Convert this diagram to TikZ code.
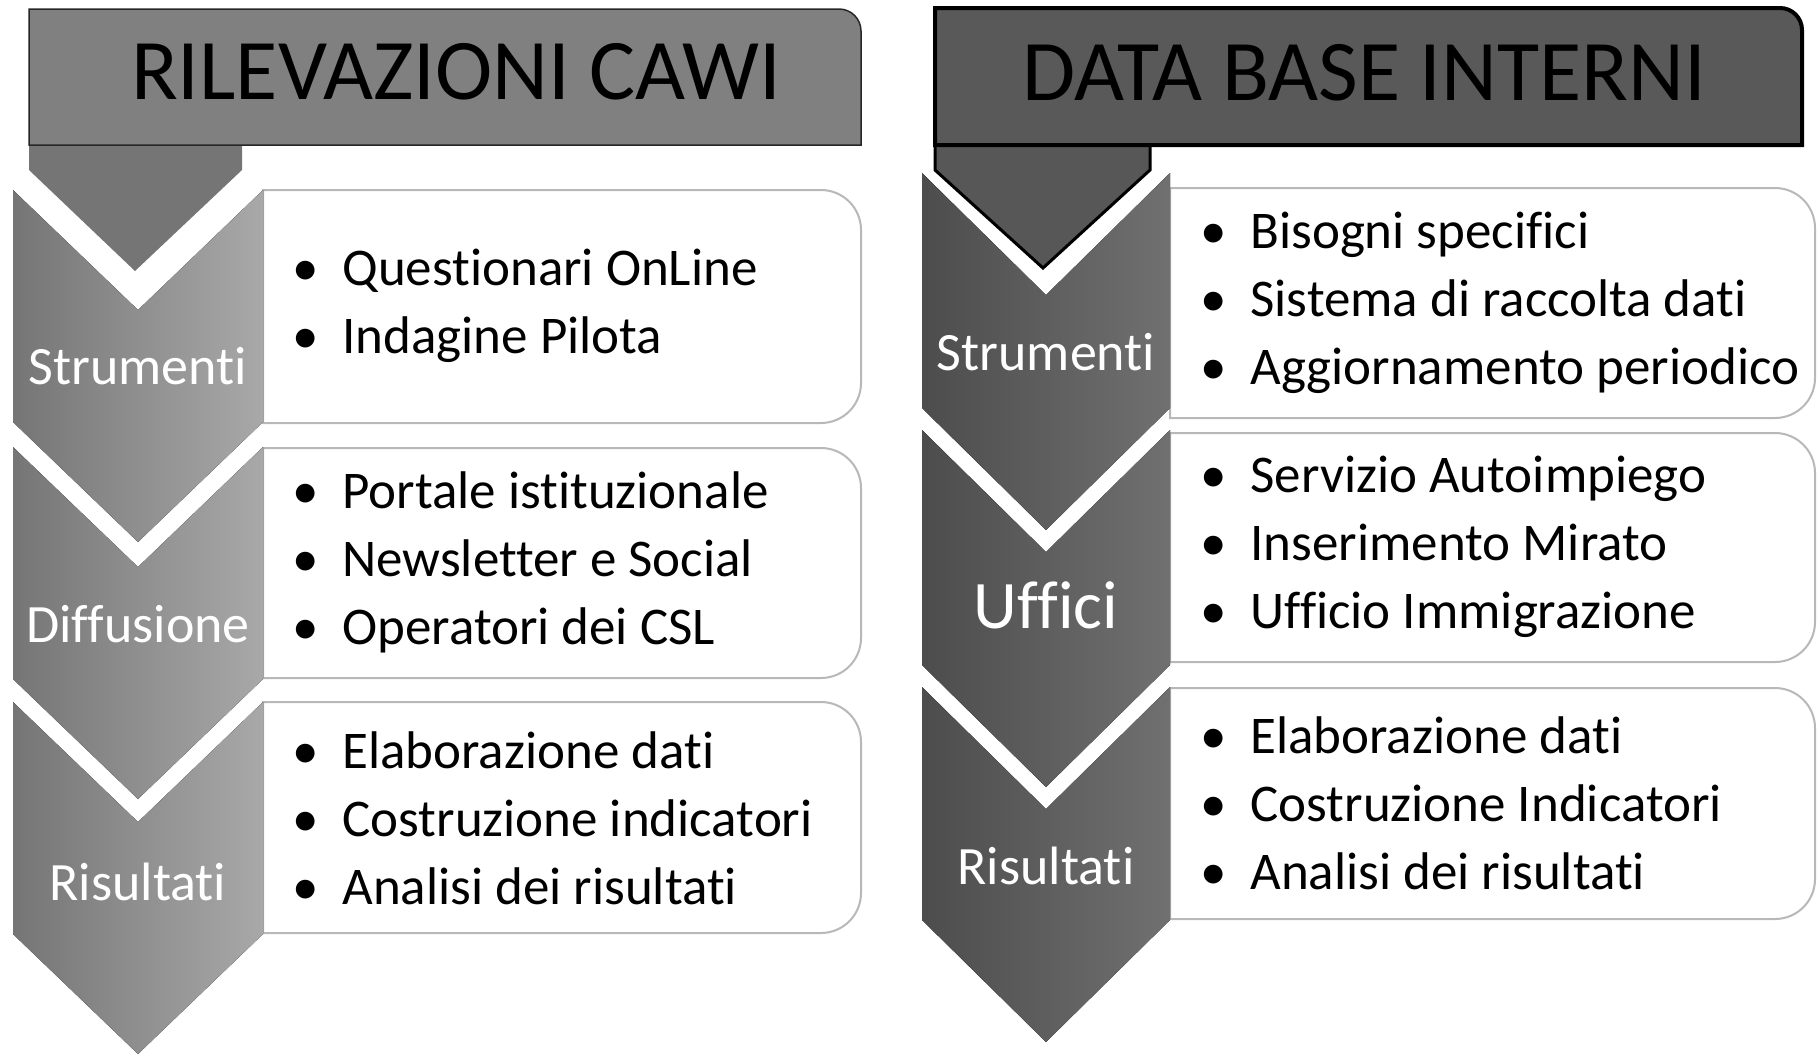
\documentclass[tikz,border=0pt]{standalone}
\usepackage{fontspec}
\setmainfont{Carlito}[Ligatures=NoCommon]
\newcommand{\bulletitem}{\makebox[25pt][l]{\textbullet}}

\begin{document}
\begin{tikzpicture}[x=0.5pt,y=-0.5pt,line join=miter,
  box/.style={fill=white,draw=black!28,line width=1pt},
  light chevron/.style={left color=black!54,right color=black!34},
  dark chevron/.style={left color=black!70,right color=black!56},
  stage label/.style={text=white,font=\fontsize{27}{32}\selectfont},
  item list/.style={anchor=west,inner sep=0pt,align=left,font=\fontsize{26.5}{34}\selectfont},
  head label/.style={font=\fontsize{43.2}{50}\selectfont}]
\useasboundingbox (0,0) rectangle (1820,1057);

% RILEVAZIONI CAWI
\draw[box] (263,190) -- (821,190) arc[start angle=-90,end angle=0,radius=40] -- (861,383) arc[start angle=0,end angle=90,radius=40] -- (263,423) -- cycle;
\draw[box] (263,448) -- (821,448) arc[start angle=-90,end angle=0,radius=40] -- (861,638) arc[start angle=0,end angle=90,radius=40] -- (263,678) -- cycle;
\draw[box] (263,702) -- (821,702) arc[start angle=-90,end angle=0,radius=40] -- (861,893) arc[start angle=0,end angle=90,radius=40] -- (263,933) -- cycle;

\fill[light chevron] (13,190) -- (138,310) -- (263,190) -- (263,422) -- (138,542) -- (13,422) -- cycle;
\fill[light chevron] (13,447) -- (138,567) -- (263,447) -- (263,679) -- (138,799) -- (13,679) -- cycle;
\fill[light chevron] (13,702) -- (138,822) -- (263,702) -- (263,934) -- (138,1054) -- (13,934) -- cycle;

\fill[black!54] (29,140) -- (242,140) -- (242,170) -- (135,271) -- (29,170) -- cycle;
\draw[fill=black!50,draw=black!85,line width=0.75pt] (29,145) -- (29,9) -- (839,9) arc[start angle=-90,end angle=0,radius=22] -- (861,145) -- cycle;
\node[head label] (cawi) at (456,72) {RILEVAZIONI CAWI};

\node[stage label] (cawi1) at (138,366) {Strumenti};
\node[stage label] (cawi2) at (138,624) {Diffusione};
\node[stage label] (cawi3) at (138,882) {Risultati};

\node[item list] (cawi1 items) at (292,306) {\bulletitem Questionari OnLine\\ \bulletitem Indagine Pilota};
\node[item list] (cawi2 items) at (292,562) {\bulletitem Portale istituzionale\\ \bulletitem Newsletter e Social\\ \bulletitem Operatori dei CSL};
\node[item list] (cawi3 items) at (292,818) {\bulletitem Elaborazione dati\\ \bulletitem Costruzione indicatori\\ \bulletitem Analisi dei risultati};

% DATA BASE INTERNI
\draw[box] (1170,188) -- (1775,188) arc[start angle=-90,end angle=0,radius=40] -- (1815,378) arc[start angle=0,end angle=90,radius=40] -- (1170,418) -- cycle;
\draw[box] (1170,433) -- (1775,433) arc[start angle=-90,end angle=0,radius=40] -- (1815,622) arc[start angle=0,end angle=90,radius=40] -- (1170,662) -- cycle;
\draw[box] (1170,688) -- (1775,688) arc[start angle=-90,end angle=0,radius=40] -- (1815,879) arc[start angle=0,end angle=90,radius=40] -- (1170,919) -- cycle;

\fill[dark chevron] (922,173) -- (1046,295) -- (1170,173) -- (1170,408) -- (1046,530) -- (922,408) -- cycle;
\fill[dark chevron] (922,430) -- (1046,552) -- (1170,430) -- (1170,665) -- (1046,787) -- (922,665) -- cycle;
\fill[dark chevron] (922,687) -- (1046,809) -- (1170,687) -- (1170,920) -- (1046,1042) -- (922,920) -- cycle;

\draw[fill=black!66,line width=1.5pt] (935,140) -- (935,170) -- (1043,268) -- (1150,170) -- (1150,140);
\draw[fill=black!65,line width=2pt] (935,145) -- (935,8) -- (1780,8) arc[start angle=-90,end angle=0,radius=22] -- (1802,145) -- cycle;
\node[head label] (dbi) at (1364,73) {DATA BASE INTERNI};

\node[stage label] (dbi1) at (1046,352) {Strumenti};
\node[stage label,font=\fontsize{34}{40}\selectfont] (dbi2) at (1046,605) {Uffici};
\node[stage label] (dbi3) at (1046,866) {Risultati};

\node[item list] (dbi1 items) at (1200,303) {\bulletitem Bisogni specifici\\ \bulletitem Sistema di raccolta dati\\ \bulletitem Aggiornamento periodico};
\node[item list] (dbi2 items) at (1200,547) {\bulletitem Servizio Autoimpiego\\ \bulletitem Inserimento Mirato\\ \bulletitem Ufficio Immigrazione};
\node[item list] (dbi3 items) at (1200,803) {\bulletitem Elaborazione dati\\ \bulletitem Costruzione Indicatori\\ \bulletitem Analisi dei risultati};
\end{tikzpicture}
\end{document}
